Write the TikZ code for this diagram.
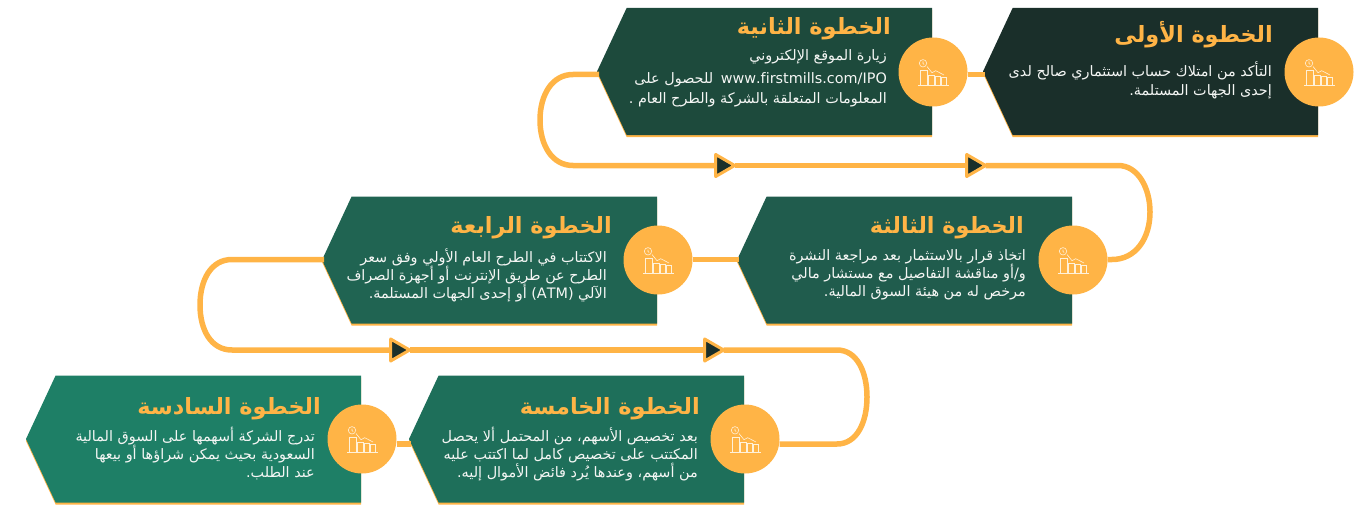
\documentclass[tikz,border=0pt]{standalone}
\usepackage{fontspec}
\usetikzlibrary{shapes.symbols,shapes.geometric}
\TeXXeTstate=1
\newfontfamily\arabicfont[Script=Arabic]{DejaVu Sans}
\definecolor{flow}{HTML}{FFB446}
\definecolor{stepA}{HTML}{1A2F2A}
\definecolor{stepB}{HTML}{1D4A3C}
\definecolor{stepC}{HTML}{205C4D}
\definecolor{stepD}{HTML}{206452}
\definecolor{stepE}{HTML}{1E6F5A}
\definecolor{stepF}{HTML}{1E7F66}
\definecolor{iconline}{HTML}{FFF1D9}
\definecolor{bodyink}{HTML}{F4F6F4}
\newcommand\rl[1]{\beginR #1\endR}
\tikzset{
  stepbox/.style={signal, signal to=west, signal from=nowhere, signal pointer angle=130,
    minimum width=335pt, minimum height=127pt, inner sep=0pt, outer sep=0pt, anchor=east,
    fill=#1, preaction={fill=flow, transform canvas={yshift=-2pt}}},
  iconball/.style={circle, fill=flow, minimum size=69pt, inner sep=0pt, outer sep=0pt},
  flowline/.style={draw=flow, line width=5.5pt},
  flowmark/.style={isosceles triangle, isosceles triangle stretches, minimum width=22pt, minimum height=19pt,
    inner sep=0pt, outer sep=0pt, draw=flow, fill=stepA, line width=3pt, line join=round},
  headtext/.style={anchor=base east, inner sep=0pt, text=flow, font=\arabicfont\bfseries\fontsize{22.4}{26}\selectfont},
  bodytext/.style={anchor=north east, inner sep=0pt, align=right, text=bodyink, font=\arabicfont\fontsize{14.4}{18}\selectfont},
}
\newcommand\charticon[1]{
  \begin{scope}[shift={(#1)}, draw=iconline, line width=0.6pt]
    \draw (-15,13) -- (16,13);
    \draw (-10,-8.7) circle (3.7pt);
    \draw (-10,-10.5) -- (-10,-8.5) -- (-8.8,-7.5);
    \draw (-6,-5.5) -- (-1,0.7) -- (2.7,-1.3) -- (11,3);
    \draw (-12.3,13) -- (-12.3,-1.3) -- (-6,-1.3) -- (-6,13);
    \draw (-4.7,13) -- (-4.7,3) -- (1,3) -- (1,13);
    \draw (2.7,13) -- (2.7,4) -- (7.7,4) -- (7.7,13);
    \draw (8.3,13) -- (8.3,5.7) -- (13.3,5.7) -- (13.3,13);
  \end{scope}
}
\begin{document}
\begin{tikzpicture}[x=1pt,y=-1pt]
\useasboundingbox (0,0) rectangle (1372,508);

\node[stepbox=stepA] (stepone) at (1318,71.5) {};
\node[stepbox=stepB] (steptwo) at (932,71.5) {};
\node[stepbox=stepC] (stepthree) at (1072,260) {};
\node[stepbox=stepD] (stepfour) at (657,260) {};
\node[stepbox=stepE] (stepfive) at (744,439) {};
\node[stepbox=stepF] (stepsix) at (361,439) {};

\node[iconball] (iconone) at (1319,72) {};
\node[iconball] (icontwo) at (933,72) {};
\node[iconball] (iconthree) at (1073,260) {};
\node[iconball] (iconfour) at (658,260) {};
\node[iconball] (iconfive) at (745,439) {};
\node[iconball] (iconsix) at (362,439) {};

\node[flowmark] (markone) at (722,165.5) {};
\node[flowmark] (marktwo) at (973,165.5) {};
\node[flowmark] (markthree) at (397,350) {};
\node[flowmark] (markfour) at (711,350) {};

\coordinate (joinone) at (985,74.5);
\coordinate (jointwo) at (599,74.5);
\coordinate (jointhree) at (739,259.5);
\coordinate (joinfour) at (324,259.5);
\coordinate (joinfive) at (411,444);

\draw[flowline] (icontwo.east |- joinone) -- (joinone);
\draw[flowline] (iconfour.east |- jointhree) -- (jointhree);
\draw[flowline] (iconsix.east |- joinfive) -- (joinfive);

%% long bends
\draw[flowline] (jointwo) -- (573,74.5) .. controls (552,74.5) and (540,95) .. (540,120)
  .. controls (540,145) and (552,165.5) .. (573,165.5) -- (markone.west);
\draw[flowline] (markone.east) -- (marktwo.west);
\draw[flowline] (marktwo.east) -- (1118,165.5) .. controls (1138,165.5) and (1150,188) .. (1150,212)
  .. controls (1150,238) and (1136,259.5) .. (1112,259.5) -- (iconthree.east |- 0,259.5);
\draw[flowline] (joinfour) -- (232,259.5) .. controls (211,259.5) and (200,280) .. (200,305)
  .. controls (200,330) and (211,350) .. (232,350) -- (markthree.west);
\draw[flowline] (markthree.east) -- (markfour.west);
\draw[flowline] (markfour.east) -- (837,350) .. controls (857,350) and (867,372) .. (867,397)
  .. controls (867,422) and (857,444) .. (837,444) -- (iconfive.east |- 0,444);

\charticon{iconone}
\charticon{icontwo}
\charticon{iconthree}
\charticon{iconfour}
\charticon{iconfive}
\charticon{iconsix}

\node[headtext] (headone) at (1273,43) {\rl{الخطوة الأولى}};
\node[headtext] (headtwo) at (891,35) {\rl{الخطوة الثانية}};
\node[headtext] (headthree) at (1024,233) {\rl{الخطوة الثالثة}};
\node[headtext] (headfour) at (612,233) {\rl{الخطوة الرابعة}};
\node[headtext] (headfive) at (700,414) {\rl{الخطوة الخامسة}};
\node[headtext] (headsix) at (321,414) {\rl{الخطوة السادسة}};

\node[bodytext] (bodyone) at (1272,62) {\rl{التأكد من امتلاك حساب استثماري صالح لدى}\\
  \rl{إحدى الجهات المستلمة.}};
\node[bodytext] (bodytwo) at (887,49) {\rl{زيارة الموقع الإلكتروني}\\[5pt]
  \rl{\beginL www.firstmills.com/IPO\endL\hspace{3pt} للحصول على}\\[2pt]
  \rl{المعلومات المتعلقة بالشركة والطرح العام .}};
\node[bodytext] (bodythree) at (1026,249) {\rl{اتخاذ قرار بالاستثمار بعد مراجعة النشرة}\\
  \rl{و/أو مناقشة التفاصيل مع مستشار مالي}\\
  \rl{مرخص له من هيئة السوق المالية.}};
\node[bodytext] (bodyfour) at (607,248.5) {\rl{الاكتتاب في الطرح العام الأولي وفق سعر}\\
  \rl{الطرح عن طريق الإنترنت أو أجهزة الصراف}\\
  \rl{الآلي \beginL(ATM)\endL{} أو إحدى الجهات المستلمة.}};
\node[bodytext] (bodyfive) at (698,426.5) {\rl{بعد تخصيص الأسهم، من المحتمل ألا يحصل}\\
  \rl{المكتتب على تخصيص كامل لما اكتتب عليه}\\
  \rl{من أسهم، وعندها يُرد فائض الأموال إليه.}};
\node[bodytext] (bodysix) at (315,427) {\rl{تدرج الشركة أسهمها على السوق المالية}\\
  \rl{السعودية بحيث يمكن شراؤها أو بيعها}\\
  \rl{عند الطلب.}};

\end{tikzpicture}
\end{document}
